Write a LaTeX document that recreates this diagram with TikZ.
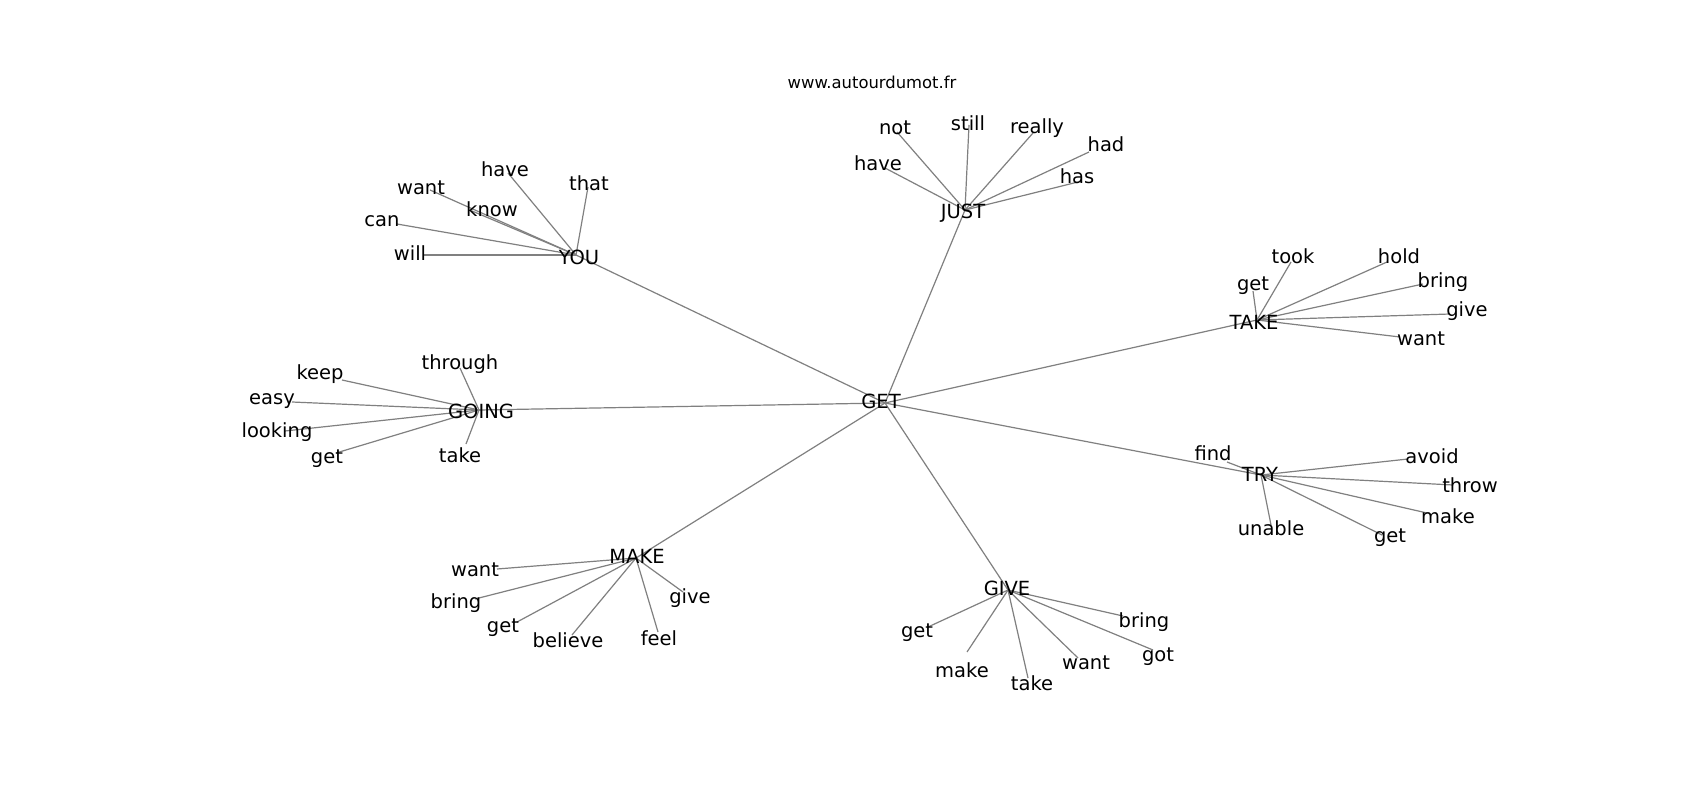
\documentclass[tikz,border=0pt]{standalone}
\usepackage{fontspec}
\setmainfont{DejaVu Sans}
\definecolor{edgegray}{RGB}{128,128,128}
\begin{document}
\begin{tikzpicture}[x=1pt,y=-1pt,
  edge/.style={draw=edgegray,line width=1.2pt},
  lbl/.style={inner sep=0pt,font=\fontsize{19.5}{23}\selectfont},
  ttl/.style={inner sep=0pt,font=\fontsize{16.4}{20}\selectfont}]
\useasboundingbox[fill=white] (0,0) rectangle (1700,800);
% hub points (where edges meet)
\coordinate (GET) at (885,403);
\coordinate (YOU) at (576,255);
\coordinate (JUST) at (965,210);
\coordinate (TAKE) at (1257,320);
\coordinate (GOING) at (479,410);
\coordinate (TRY) at (1261,475);
\coordinate (MAKE) at (636,558);
\coordinate (GIVE) at (1008,590);
% leaf end points
\coordinate (y1) at (508,173);
\coordinate (y2) at (430,190);
\coordinate (y3) at (472,211);
\coordinate (y4) at (588,187);
\coordinate (y5) at (397,224);
\coordinate (y6) at (423,255);
\coordinate (j1) at (897,132);
\coordinate (j2) at (969,125);
\coordinate (j3) at (1033,133);
\coordinate (j4) at (1089,152);
\coordinate (j5) at (1082,181);
\coordinate (j6) at (885,168);
\coordinate (t1) at (1291,262);
\coordinate (t2) at (1387,262);
\coordinate (t3) at (1253,291);
\coordinate (t4) at (1423,284);
\coordinate (t5) at (1450,314);
\coordinate (t6) at (1400,337);
\coordinate (g1) at (460,368);
\coordinate (g2) at (342,380);
\coordinate (g3) at (292,402);
\coordinate (g4) at (285,431);
\coordinate (g5) at (336,453);
\coordinate (g6) at (466,444);
\coordinate (r1) at (1227,462);
\coordinate (r2) at (1408,459);
\coordinate (r3) at (1453,485);
\coordinate (r4) at (1427,513);
\coordinate (r5) at (1382,535);
\coordinate (r6) at (1271,525);
\coordinate (m1) at (497,569);
\coordinate (m2) at (475,599);
\coordinate (m3) at (517,622);
\coordinate (m4) at (572,635);
\coordinate (m5) at (658,632);
\coordinate (m6) at (683,592);
\coordinate (v1) at (928,627);
\coordinate (v2) at (967,652);
\coordinate (v3) at (1028,678);
\coordinate (v4) at (1078,658);
\coordinate (v5) at (1153,650);
\coordinate (v6) at (1123,616);
% edges
\foreach \h in {YOU,JUST,TAKE,GOING,TRY,MAKE,GIVE}
  \draw[edge] (GET) -- (\h);
\foreach \c in {y1,y2,y3,y4,y5,y6} \draw[edge] (YOU) -- (\c);
\foreach \c in {j1,j2,j3,j4,j5,j6} \draw[edge] (JUST) -- (\c);
\foreach \c in {t1,t2,t3,t4,t5,t6} \draw[edge] (TAKE) -- (\c);
\foreach \c in {g1,g2,g3,g4,g5,g6} \draw[edge] (GOING) -- (\c);
\foreach \c in {r1,r2,r3,r4,r5,r6} \draw[edge] (TRY) -- (\c);
\foreach \c in {m1,m2,m3,m4,m5,m6} \draw[edge] (MAKE) -- (\c);
\foreach \c in {v1,v2,v3,v4,v5,v6} \draw[edge] (GIVE) -- (\c);
% hub labels
\node[lbl] (GETL) at (881,401) {GET};
\node[lbl] (YOUL) at (579,257) {YOU};
\node[lbl] (JUSTL) at (963,213) {JUST};
\node[lbl] (TAKEL) at (1254,322) {TAKE};
\node[lbl] (GOINGL) at (481,411) {GOING};
\node[lbl] (TRYL) at (1260,474) {TRY};
\node[lbl] (MAKEL) at (637,556) {MAKE};
\node[lbl] (GIVEL) at (1007,588) {GIVE};
% leaf labels
\node[lbl] (y1L) at (505,169) {have};
\node[lbl] (y2L) at (421,188) {want};
\node[lbl] (y3L) at (492,209) {know};
\node[lbl] (y4L) at (589,183) {that};
\node[lbl] (y5L) at (382,221) {can};
\node[lbl] (y6L) at (410,253) {will};
\node[lbl] (j1L) at (895,128) {not};
\node[lbl] (j2L) at (968,123) {still};
\node[lbl] (j3L) at (1037,128) {really};
\node[lbl] (j4L) at (1106,144) {had};
\node[lbl] (j5L) at (1077,176) {has};
\node[lbl] (j6L) at (878,163) {have};
\node[lbl] (t1L) at (1293,256) {took};
\node[lbl] (t2L) at (1399,256) {hold};
\node[lbl] (t3L) at (1253,286) {get};
\node[lbl] (t4L) at (1443,282) {bring};
\node[lbl] (t5L) at (1467,311) {give};
\node[lbl] (t6L) at (1421,339) {want};
\node[lbl] (g1L) at (460,364) {through};
\node[lbl] (g2L) at (320,374) {keep};
\node[lbl] (g3L) at (272,401) {easy};
\node[lbl] (g4L) at (277,432) {looking};
\node[lbl] (g5L) at (327,459) {get};
\node[lbl] (g6L) at (460,455) {take};
\node[lbl] (r1L) at (1213,453) {find};
\node[lbl] (r2L) at (1432,456) {avoid};
\node[lbl] (r3L) at (1470,485) {throw};
\node[lbl] (r4L) at (1448,516) {make};
\node[lbl] (r5L) at (1390,538) {get};
\node[lbl] (r6L) at (1271,528) {unable};
\node[lbl] (m1L) at (475,570) {want};
\node[lbl] (m2L) at (456,603) {bring};
\node[lbl] (m3L) at (503,628) {get};
\node[lbl] (m4L) at (568,640) {believe};
\node[lbl] (m5L) at (659,638) {feel};
\node[lbl] (m6L) at (690,598) {give};
\node[lbl] (v1L) at (917,633) {get};
\node[lbl] (v2L) at (962,670) {make};
\node[lbl] (v3L) at (1032,683) {take};
\node[lbl] (v4L) at (1086,663) {want};
\node[lbl] (v5L) at (1158,657) {got};
\node[lbl] (v6L) at (1144,622) {bring};
% title
\node[ttl] (title) at (872,82) {www.autourdumot.fr};
\end{tikzpicture}
\end{document}
